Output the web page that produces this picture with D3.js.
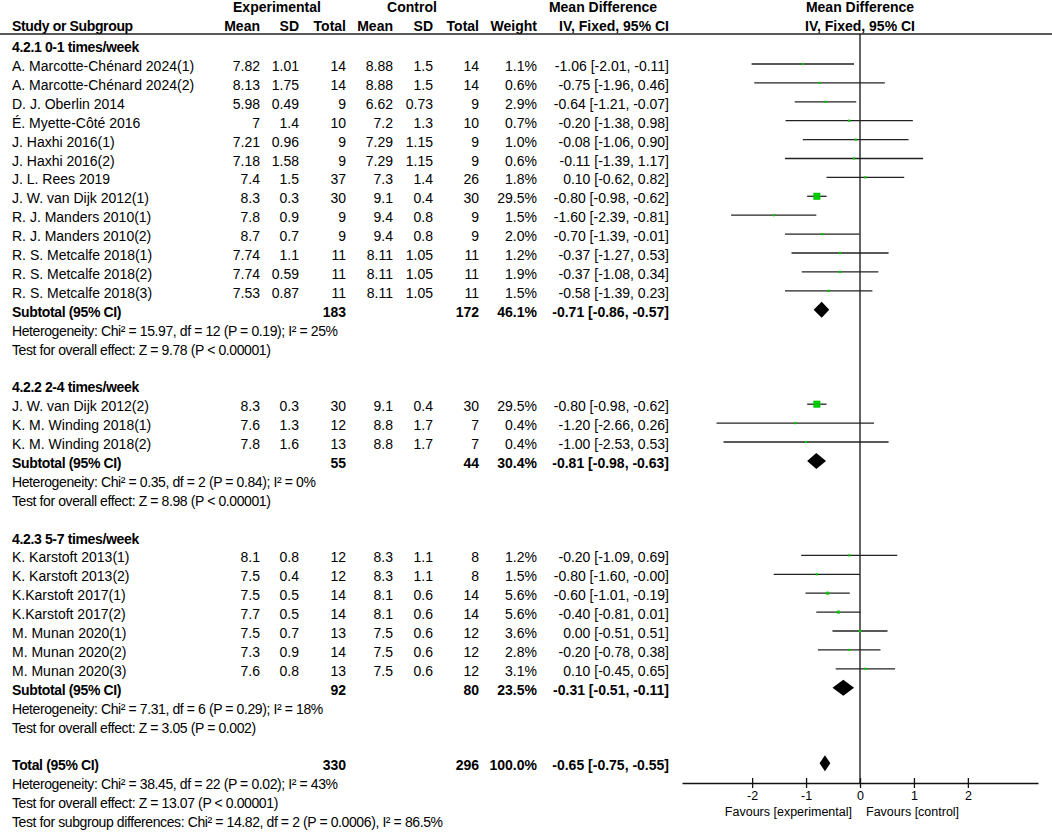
<!DOCTYPE html>
<html>
<head>
<meta charset="utf-8">
<script src="https://cdn.jsdelivr.net/npm/d3@7"></script>
<style>
  body { margin: 0; background: #fff; }
  svg text { font-family: "Liberation Sans", Arial, sans-serif; font-size: 14px; fill: #000; }
  svg text.b { font-weight: bold; }
  svg text.bl { font-weight: bold; letter-spacing: -0.35px; }
  svg text.note { letter-spacing: -0.4px; }
  svg text.ax { font-size: 12.5px; }
</style>
</head>
<body>
<div id="chart"></div>
<script>
// study rows
const studies = [
  'A. Marcotte-Chénard 2024(1)', 'A. Marcotte-Chénard 2024(2)', 'D. J. Oberlin 2014', 'É. Myette-Côté 2016',
  'J. Haxhi 2016(1)', 'J. Haxhi 2016(2)', 'J. L. Rees 2019', 'J. W. van Dijk 2012(1)',
  'R. J. Manders 2010(1)', 'R. J. Manders 2010(2)', 'R. S. Metcalfe 2018(1)', 'R. S. Metcalfe 2018(2)',
  'R. S. Metcalfe 2018(3)',
  'J. W. van Dijk 2012(2)', 'K. M. Winding 2018(1)', 'K. M. Winding 2018(2)',
  'K. Karstoft 2013(1)', 'K. Karstoft 2013(2)', 'K.Karstoft 2017(1)', 'K.Karstoft 2017(2)',
  'M. Munan 2020(1)', 'M. Munan 2020(2)', 'M. Munan 2020(3)'
];
const studyGroup = [0,0,0,0,0,0,0,0,0,0,0,0,0, 1,1,1, 2,2,2,2,2,2,2];
const expMean = [7.82, 8.13, 5.98, 7, 7.21, 7.18, 7.4, 8.3, 7.8, 8.7, 7.74, 7.74, 7.53, 8.3, 7.6, 7.8, 8.1, 7.5, 7.5, 7.7, 7.5, 7.3, 7.6];
const expSD   = [1.01, 1.75, 0.49, 1.4, 0.96, 1.58, 1.5, 0.3, 0.9, 0.7, 1.1, 0.59, 0.87, 0.3, 1.3, 1.6, 0.8, 0.4, 0.5, 0.5, 0.7, 0.9, 0.8];
const expN    = [14, 14, 9, 10, 9, 9, 37, 30, 9, 9, 11, 11, 11, 30, 12, 13, 12, 12, 14, 14, 13, 14, 13];
const ctlMean = [8.88, 8.88, 6.62, 7.2, 7.29, 7.29, 7.3, 9.1, 9.4, 9.4, 8.11, 8.11, 8.11, 9.1, 8.8, 8.8, 8.3, 8.3, 8.1, 8.1, 7.5, 7.5, 7.5];
const ctlSD   = [1.5, 1.5, 0.73, 1.3, 1.15, 1.15, 1.4, 0.4, 0.8, 0.8, 1.05, 1.05, 1.05, 0.4, 1.7, 1.7, 1.1, 1.1, 0.6, 0.6, 0.6, 0.6, 0.6];
const ctlN    = [14, 14, 9, 10, 9, 9, 26, 30, 9, 9, 11, 11, 11, 30, 7, 7, 8, 8, 14, 14, 12, 12, 12];
const weight  = [1.1, 0.6, 2.9, 0.7, 1.0, 0.6, 1.8, 29.5, 1.5, 2.0, 1.2, 1.9, 1.5, 29.5, 0.4, 0.4, 1.2, 1.5, 5.6, 5.6, 3.6, 2.8, 3.1];
const md      = [-1.06, -0.75, -0.64, -0.20, -0.08, -0.11, 0.10, -0.80, -1.60, -0.70, -0.37, -0.37, -0.58, -0.80, -1.20, -1.00, -0.20, -0.80, -0.60, -0.40, 0.00, -0.20, 0.10];
const ciLow   = [-2.01, -1.96, -1.21, -1.38, -1.06, -1.39, -0.62, -0.98, -2.39, -1.39, -1.27, -1.08, -1.39, -0.98, -2.66, -2.53, -1.09, -1.60, -1.01, -0.81, -0.51, -0.78, -0.45];
const ciHigh  = [-0.11, 0.46, -0.07, 0.98, 0.90, 1.17, 0.82, -0.62, -0.81, -0.01, 0.53, 0.34, 0.23, -0.62, 0.26, 0.53, 0.69, -0.00, -0.19, 0.01, 0.51, 0.38, 0.65];

// subgroups
const groupLabels = ['4.2.1 0-1 times/week', '4.2.2 2-4 times/week', '4.2.3 5-7 times/week'];
const subExpN = [183, 55, 92];
const subCtlN = [172, 44, 80];
const subWeight = [46.1, 30.4, 23.5];
const subMd = [-0.71, -0.81, -0.31];
const subLow = [-0.86, -0.98, -0.51];
const subHigh = [-0.57, -0.63, -0.11];
const subHet = [
  'Heterogeneity: Chi² = 15.97, df = 12 (P = 0.19); I² = 25%',
  'Heterogeneity: Chi² = 0.35, df = 2 (P = 0.84); I² = 0%',
  'Heterogeneity: Chi² = 7.31, df = 6 (P = 0.29); I² = 18%'
];
const subTest = [
  'Test for overall effect: Z = 9.78 (P < 0.00001)',
  'Test for overall effect: Z = 8.98 (P < 0.00001)',
  'Test for overall effect: Z = 3.05 (P = 0.002)'
];

// overall
const totalExpN = 330, totalCtlN = 296, totalWeight = 100.0;
const totalMd = -0.65, totalLow = -0.75, totalHigh = -0.55;
const totalNotes = [
  'Heterogeneity: Chi² = 38.45, df = 22 (P = 0.02); I² = 43%',
  'Test for overall effect: Z = 13.07 (P < 0.00001)',
  'Test for subgroup differences: Chi² = 14.82, df = 2 (P = 0.0006), I² = 86.5%'
];
const axisTicks = [-2, -1, 0, 1, 2];
const axisDomain = [-3.3, 3.3];

const W = 1052, H = 832;
const rowY = r => 64 + 18.9 * r;
const base = 7;
const col = { em: 260, es: 299, en: 346, cm: 393, cs: 433, cn: 479, w: 537, ci: 669 };
const axisY = 783;

const fmt2 = v => ((v < 0 || Object.is(v, -0)) ? '-' : '') + Math.abs(v).toFixed(2);
const ciText = (m, lo, hi) => `${fmt2(m)} [${fmt2(lo)}, ${fmt2(hi)}]`;
const pct = v => v.toFixed(1) + '%';

const svg = d3.select('#chart').append('svg')
  .attr('width', W).attr('height', H);
svg.append('rect').attr('width', W).attr('height', H).attr('fill', '#fff');

const x = d3.scaleLinear().domain(axisDomain).range([682, 1038]);

function txt(xp, y, s, anchor, cls) {
  return svg.append('text').attr('x', xp).attr('y', y)
    .attr('text-anchor', anchor || 'start')
    .attr('class', cls || null).text(s);
}

// header
txt(277, 12, 'Experimental', 'middle', 'b');
txt(412, 12, 'Control', 'middle', 'b');
txt(603, 12, 'Mean Difference', 'middle', 'b');
txt(860, 12, 'Mean Difference', 'middle', 'b');
txt(12, 31, 'Study or Subgroup', 'start', 'bl');
[['em', 'Mean'], ['es', 'SD'], ['en', 'Total'], ['cm', 'Mean'], ['cs', 'SD'], ['cn', 'Total'], ['w', 'Weight'], ['ci', 'IV, Fixed, 95% CI']]
  .forEach(([k, s]) => txt(col[k], 31, s, 'end', 'b'));
txt(860, 31, 'IV, Fixed, 95% CI', 'middle', 'b');
svg.append('line').attr('x1', 0).attr('x2', W).attr('y1', 34).attr('y2', 34)
  .attr('stroke', '#222').attr('stroke-width', 1.4);

// zero line
svg.append('line').attr('x1', x(0)).attr('x2', x(0)).attr('y1', 34).attr('y2', axisY)
  .attr('stroke', '#111').attr('stroke-width', 1.3);

function diamond(m, lo, hi, y) {
  svg.append('path')
    .attr('d', `M${x(lo)},${y}L${x(m)},${y - 8}L${x(hi)},${y}L${x(m)},${y + 8}Z`)
    .attr('fill', '#000');
}

// body rows
let r = -1;
groupLabels.forEach((g, gi) => {
  txt(12, rowY(r) + base, g, 'start', 'bl');
  r++;
  studies.forEach((s, i) => {
    if (studyGroup[i] !== gi) return;
    const y = rowY(r), ty = y + base;
    txt(12, ty, s);
    txt(col.em, ty, String(expMean[i]), 'end');
    txt(col.es, ty, String(expSD[i]), 'end');
    txt(col.en, ty, String(expN[i]), 'end');
    txt(col.cm, ty, String(ctlMean[i]), 'end');
    txt(col.cs, ty, String(ctlSD[i]), 'end');
    txt(col.cn, ty, String(ctlN[i]), 'end');
    txt(col.w, ty, pct(weight[i]), 'end');
    txt(col.ci, ty, ciText(md[i], ciLow[i], ciHigh[i]), 'end');
    svg.append('line').attr('x1', x(ciLow[i])).attr('x2', x(ciHigh[i]))
      .attr('y1', y).attr('y2', y).attr('stroke', '#222').attr('stroke-width', 1.3);
    const sz = Math.max(2.2, 1.3 * Math.sqrt(weight[i]));
    svg.append('rect').attr('x', x(md[i]) - sz / 2).attr('y', y - sz / 2)
      .attr('width', sz).attr('height', sz).attr('fill', '#00c800');
    r++;
  });
  const ty = rowY(r) + base;
  txt(12, ty, 'Subtotal (95% CI)', 'start', 'bl');
  txt(col.en, ty, String(subExpN[gi]), 'end', 'b');
  txt(col.cn, ty, String(subCtlN[gi]), 'end', 'b');
  txt(col.w, ty, pct(subWeight[gi]), 'end', 'b');
  txt(col.ci, ty, ciText(subMd[gi], subLow[gi], subHigh[gi]), 'end', 'b');
  diamond(subMd[gi], subLow[gi], subHigh[gi], rowY(r));
  r++;
  txt(12, rowY(r) + base, subHet[gi], 'start', 'note'); r++;
  txt(12, rowY(r) + base, subTest[gi], 'start', 'note'); r++;
  r++;
});

// total
const ty = rowY(r) + base;
txt(12, ty, 'Total (95% CI)', 'start', 'bl');
txt(col.en, ty, String(totalExpN), 'end', 'b');
txt(col.cn, ty, String(totalCtlN), 'end', 'b');
txt(col.w, ty, pct(totalWeight), 'end', 'b');
txt(col.ci, ty, ciText(totalMd, totalLow, totalHigh), 'end', 'b');
diamond(totalMd, totalLow, totalHigh, rowY(r));
r++;
totalNotes.forEach(n => { txt(12, rowY(r) + base, n, 'start', 'note'); r++; });

// axis
const ax = svg.append('g').attr('transform', `translate(0,${axisY})`)
  .call(d3.axisBottom(x).tickValues(axisTicks).tickFormat(d => String(d)).tickSize(5).tickSizeOuter(0));
ax.select('.domain').attr('stroke', '#111').attr('stroke-width', 1.3);
ax.selectAll('.tick line').attr('y1', -5).attr('y2', 5).attr('stroke', '#111').attr('stroke-width', 1.3);
ax.selectAll('.tick text').attr('class', 'ax').attr('y', 8).attr('dy', '0.71em');
txt(852, 816, 'Favours [experimental]', 'end', 'ax');
txt(866, 816, 'Favours [control]', 'start', 'ax');
</script>
</body>
</html>
